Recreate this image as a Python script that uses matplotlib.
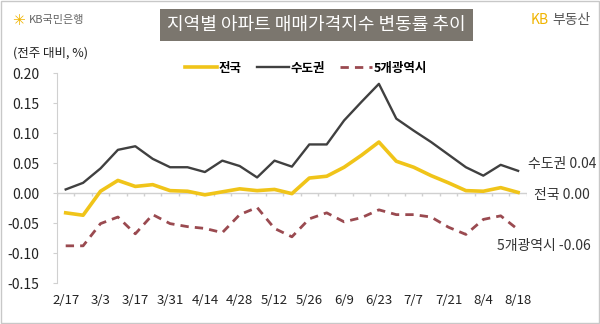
import matplotlib
matplotlib.use('Agg')
from matplotlib import pyplot as plt
from matplotlib.patches import Rectangle

plt.rcParams['font.family'] = ['Noto Sans CJK KR', 'DejaVu Sans']

# weekly change data, 2/17 ~ 8/18
weeks = ['2/17', '2/24', '3/3', '3/10', '3/17', '3/24', '3/31', '4/7', '4/14',
         '4/21', '4/28', '5/5', '5/12', '5/19', '5/26', '6/2', '6/9', '6/16',
         '6/23', '6/30', '7/7', '7/14', '7/21', '7/28', '8/4', '8/11', '8/18']
national = [-0.033, -0.037, 0.003, 0.021, 0.011, 0.014, 0.004, 0.003, -0.003,
            0.002, 0.007, 0.004, 0.006, -0.001, 0.025, 0.028, 0.043, 0.063,
            0.085, 0.053, 0.043, 0.029, 0.017, 0.004, 0.003, 0.009, 0.001]
capital = [0.006, 0.017, 0.041, 0.072, 0.078, 0.057, 0.043, 0.043, 0.035,
           0.054, 0.045, 0.026, 0.054, 0.044, 0.081, 0.081, 0.121, 0.152,
           0.182, 0.124, 0.104, 0.085, 0.064, 0.043, 0.029, 0.047, 0.037]
metro5 = [-0.088, -0.088, -0.051, -0.040, -0.068, -0.036, -0.051, -0.056, -0.059,
          -0.066, -0.036, -0.024, -0.059, -0.073, -0.043, -0.033, -0.048, -0.041,
          -0.028, -0.036, -0.036, -0.040, -0.057, -0.069, -0.044, -0.038, -0.061]
yticks = [0.20, 0.15, 0.10, 0.05, 0.00, -0.05, -0.10, -0.15]

c_nat = '#f0c419'
c_cap = '#404040'
c_met = '#9a4a50'

fig = plt.figure(figsize=(6, 3.24), dpi=100)
fig.patches.append(Rectangle((0.002, 0.003), 0.996, 0.994, transform=fig.transFigure,
                             fill=False, edgecolor='#c8c8c8', linewidth=1))

ax = fig.add_axes([0.095, 0.1265, 0.783, 0.648])
x = list(range(len(weeks)))
ax.plot(x, national, color=c_nat, linewidth=2.6, solid_joinstyle='round', label='전국')
ax.plot(x, capital, color=c_cap, linewidth=1.7, label='수도권')
ax.plot(x, metro5, color=c_met, linewidth=2.0, linestyle=(0, (3, 2.2)), label='5개광역시')

ax.set_xlim(-0.5, len(weeks) - 0.5)
ax.set_ylim(-0.15, 0.20)
ax.set_yticks(yticks)
ax.set_yticklabels(['%.2f' % v for v in yticks], fontsize=10, color='#222222')
ax.tick_params(axis='y', length=3, color='#d0d0d0', pad=10)

ax.set_xticks(x[::2])
ax.set_xticklabels(weeks[::2], fontsize=9.5, color='#222222')
ax.tick_params(axis='x', length=0, pad=8)

for s in ['top', 'right', 'bottom']:
    ax.spines[s].set_visible(False)
ax.spines['left'].set_color('#d0d0d0')

# zero line with category tick marks
ax.axhline(0, color='#d0d0d0', linewidth=1, zorder=0)
ax.vlines([i - 0.5 for i in range(len(weeks) + 1)], -0.005, 0, color='#d0d0d0', linewidth=1, zorder=0)

# end labels
ax.text(len(weeks) + 3.5, capital[-1] + 0.012, '수도권 0.04', ha='right', va='center',
        fontsize=10, color='#333333')
ax.text(len(weeks) + 3.1, national[-1] - 0.004, '전국 0.00', ha='right', va='center',
        fontsize=10, color='#333333')
ax.text(len(weeks) + 3.2, metro5[-1] - 0.027, '5개광역시 -0.06', ha='right', va='center',
        fontsize=10, color='#333333')

leg = fig.legend(loc='center', bbox_to_anchor=(0.51, 0.79), ncol=3, frameon=False,
                 fontsize=9, handlelength=2.6, columnspacing=1.2, handletextpad=0.1)
for t in leg.get_texts():
    t.set_fontweight('bold')

# title box
fig.text(0.528, 0.923, '지역별 아파트 매매가격지수 변동률 추이', ha='center', va='center',
         fontsize=13, color='white',
         bbox=dict(boxstyle='square,pad=0.4', facecolor='#7b766e', edgecolor='none'))

fig.text(0.022, 0.835, '(전주 대비, %)', fontsize=9, color='#222222', va='center')
fig.text(0.02, 0.938, '✳', fontsize=11, color='#f0b400', va='center', family=['DejaVu Sans'])
fig.text(0.048, 0.938, 'KB국민은행', fontsize=8, color='#666666', va='center')
fig.text(0.885, 0.938, 'KB', fontsize=10, color='#f0b400', va='center')
fig.text(0.92, 0.938, '부동산', fontsize=10, color='#555555', va='center')

plt.savefig('out.png', dpi=100)
